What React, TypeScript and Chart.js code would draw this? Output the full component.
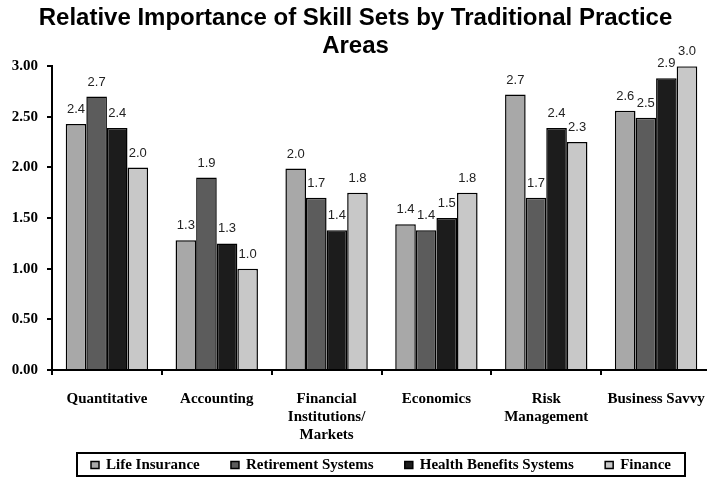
import React, { useEffect, useRef } from "react";
import { Chart, registerables } from "chart.js";

Chart.register(...registerables);

const categories: (string | string[])[] = [
  "Quantitative",
  "Accounting",
  ["Financial", "Institutions/", "Markets"],
  "Economics",
  ["Risk", "Management"],
  "Business Savvy",
];

const lifeInsurance = [2.43, 1.28, 1.99, 1.44, 2.72, 2.56];
const retirementSystems = [2.7, 1.9, 1.7, 1.38, 1.7, 2.49];
const healthBenefitsSystems = [2.39, 1.25, 1.38, 1.5, 2.39, 2.88];
const finance = [2.0, 1.0, 1.75, 1.75, 2.25, 3.0];

const seriesNames = ["Life Insurance", "Retirement Systems", "Health Benefits Systems", "Finance"];
const seriesColors = ["#a8a8a8", "#5c5c5c", "#1c1c1c", "#c8c8c8"];

const yTicks = [0, 0.5, 1, 1.5, 2, 2.5, 3];

const titleLines = ["Relative Importance of Skill Sets by Traditional Practice", "Areas"];

const SERIF = "'Liberation Serif', 'Times New Roman', serif";
const SANS = "'Liberation Sans', Arial, sans-serif";

const valueLabels = {
  id: "valueLabels",
  afterDatasetsDraw(chart: any) {
    const ctx = chart.ctx;
    ctx.save();
    ctx.font = `13px ${SANS}`;
    ctx.fillStyle = "#222";
    ctx.textAlign = "center";
    ctx.textBaseline = "bottom";
    chart.data.datasets.forEach((ds: any, i: number) => {
      const meta = chart.getDatasetMeta(i);
      meta.data.forEach((bar: any, j: number) => {
        const v = ds.data[j] as number;
        ctx.fillText(v.toFixed(1), bar.x, bar.y - 8);
      });
    });
    ctx.restore();
  },
};

const boxedLegend = {
  id: "boxedLegend",
  afterDraw(chart: any) {
    const ctx = chart.ctx;
    const left = 77;
    const right = 685;
    const top = 453;
    const bottom = 476;
    const cy = (top + bottom) / 2;
    ctx.save();
    ctx.strokeStyle = "#000";
    ctx.lineWidth = 2;
    ctx.strokeRect(left, top, right - left, bottom - top);
    ctx.font = `bold 15px ${SERIF}`;
    ctx.textBaseline = "middle";
    ctx.textAlign = "left";
    const sq = 8;
    const gapAfterSq = 7;
    const ds = chart.data.datasets;
    const widths = ds.map((d: any) => sq + gapAfterSq + ctx.measureText(d.label).width);
    const sum = widths.reduce((a: number, b: number) => a + b, 0);
    const inner = 14;
    const gap = (right - left - 2 * inner - sum) / (ds.length - 1);
    let x = left + inner;
    ds.forEach((d: any, i: number) => {
      ctx.fillStyle = d.backgroundColor;
      ctx.fillRect(x, cy - 3, sq, 7);
      ctx.lineWidth = 1.5;
      ctx.strokeStyle = "#000";
      ctx.strokeRect(x, cy - 3, sq, 7);
      ctx.fillStyle = "#000";
      ctx.fillText(d.label, x + sq + gapAfterSq, cy + 1);
      x += widths[i] + gap;
    });
    ctx.restore();
  },
};

export default function App() {
  const ref = useRef<HTMLCanvasElement | null>(null);

  useEffect(() => {
    if (!ref.current) return;
    const data = [lifeInsurance, retirementSystems, healthBenefitsSystems, finance];
    const chart = new Chart(ref.current, {
      type: "bar",
      data: {
        labels: categories,
        datasets: data.map((d, i) => ({
          label: seriesNames[i],
          data: d,
          backgroundColor: seriesColors[i],
          borderColor: "#000",
          borderWidth: 1.5,
          barPercentage: 1,
          categoryPercentage: 0.75,
        })),
      },
      options: {
        responsive: false,
        animation: false,
        layout: { padding: { left: 0, right: 0, top: 0, bottom: 37 } },
        plugins: {
          legend: { display: false },
          tooltip: { enabled: false },
          title: {
            display: true,
            text: titleLines,
            color: "#000",
            font: { family: SANS, size: 24, weight: "bold", lineHeight: 1.17 },
            padding: { top: 4, bottom: 6 },
          },
        },
        scales: {
          x: {
            afterFit: (s: any) => {
              s.height = 70;
              s.paddingLeft = 0;
              s.paddingRight = 0;
            },
            border: { display: true, color: "#000", width: 2 },
            grid: { drawOnChartArea: false, drawTicks: true, tickLength: 5, color: "#000", lineWidth: 2, offset: true },
            ticks: {
              color: "#000",
              font: { family: SERIF, size: 15, weight: "bold", lineHeight: 1.2 },
              padding: 15,
              maxRotation: 0,
              autoSkip: false,
            },
          },
          y: {
            min: 0,
            max: 3,
            afterFit: (s: any) => {
              s.width = 52;
            },
            afterBuildTicks: (s: any) => {
              s.ticks = yTicks.map((v) => ({ value: v }));
            },
            border: { display: true, color: "#000", width: 2 },
            grid: { drawOnChartArea: false, drawTicks: true, tickLength: 5, color: "#000", lineWidth: 2 },
            ticks: {
              color: "#000",
              font: { family: SERIF, size: 15, weight: "bold" },
              padding: 9,
              callback: (v: any) => Number(v).toFixed(2),
            },
          },
        },
      },
      plugins: [valueLabels, boxedLegend],
    });
    return () => chart.destroy();
  }, []);

  return (
    <div style={{ position: "fixed", left: 0, top: 0, width: 707, height: 477, background: "#fff", overflow: "hidden" }}>
      <canvas ref={ref} width={711} height={477} />
    </div>
  );
}
